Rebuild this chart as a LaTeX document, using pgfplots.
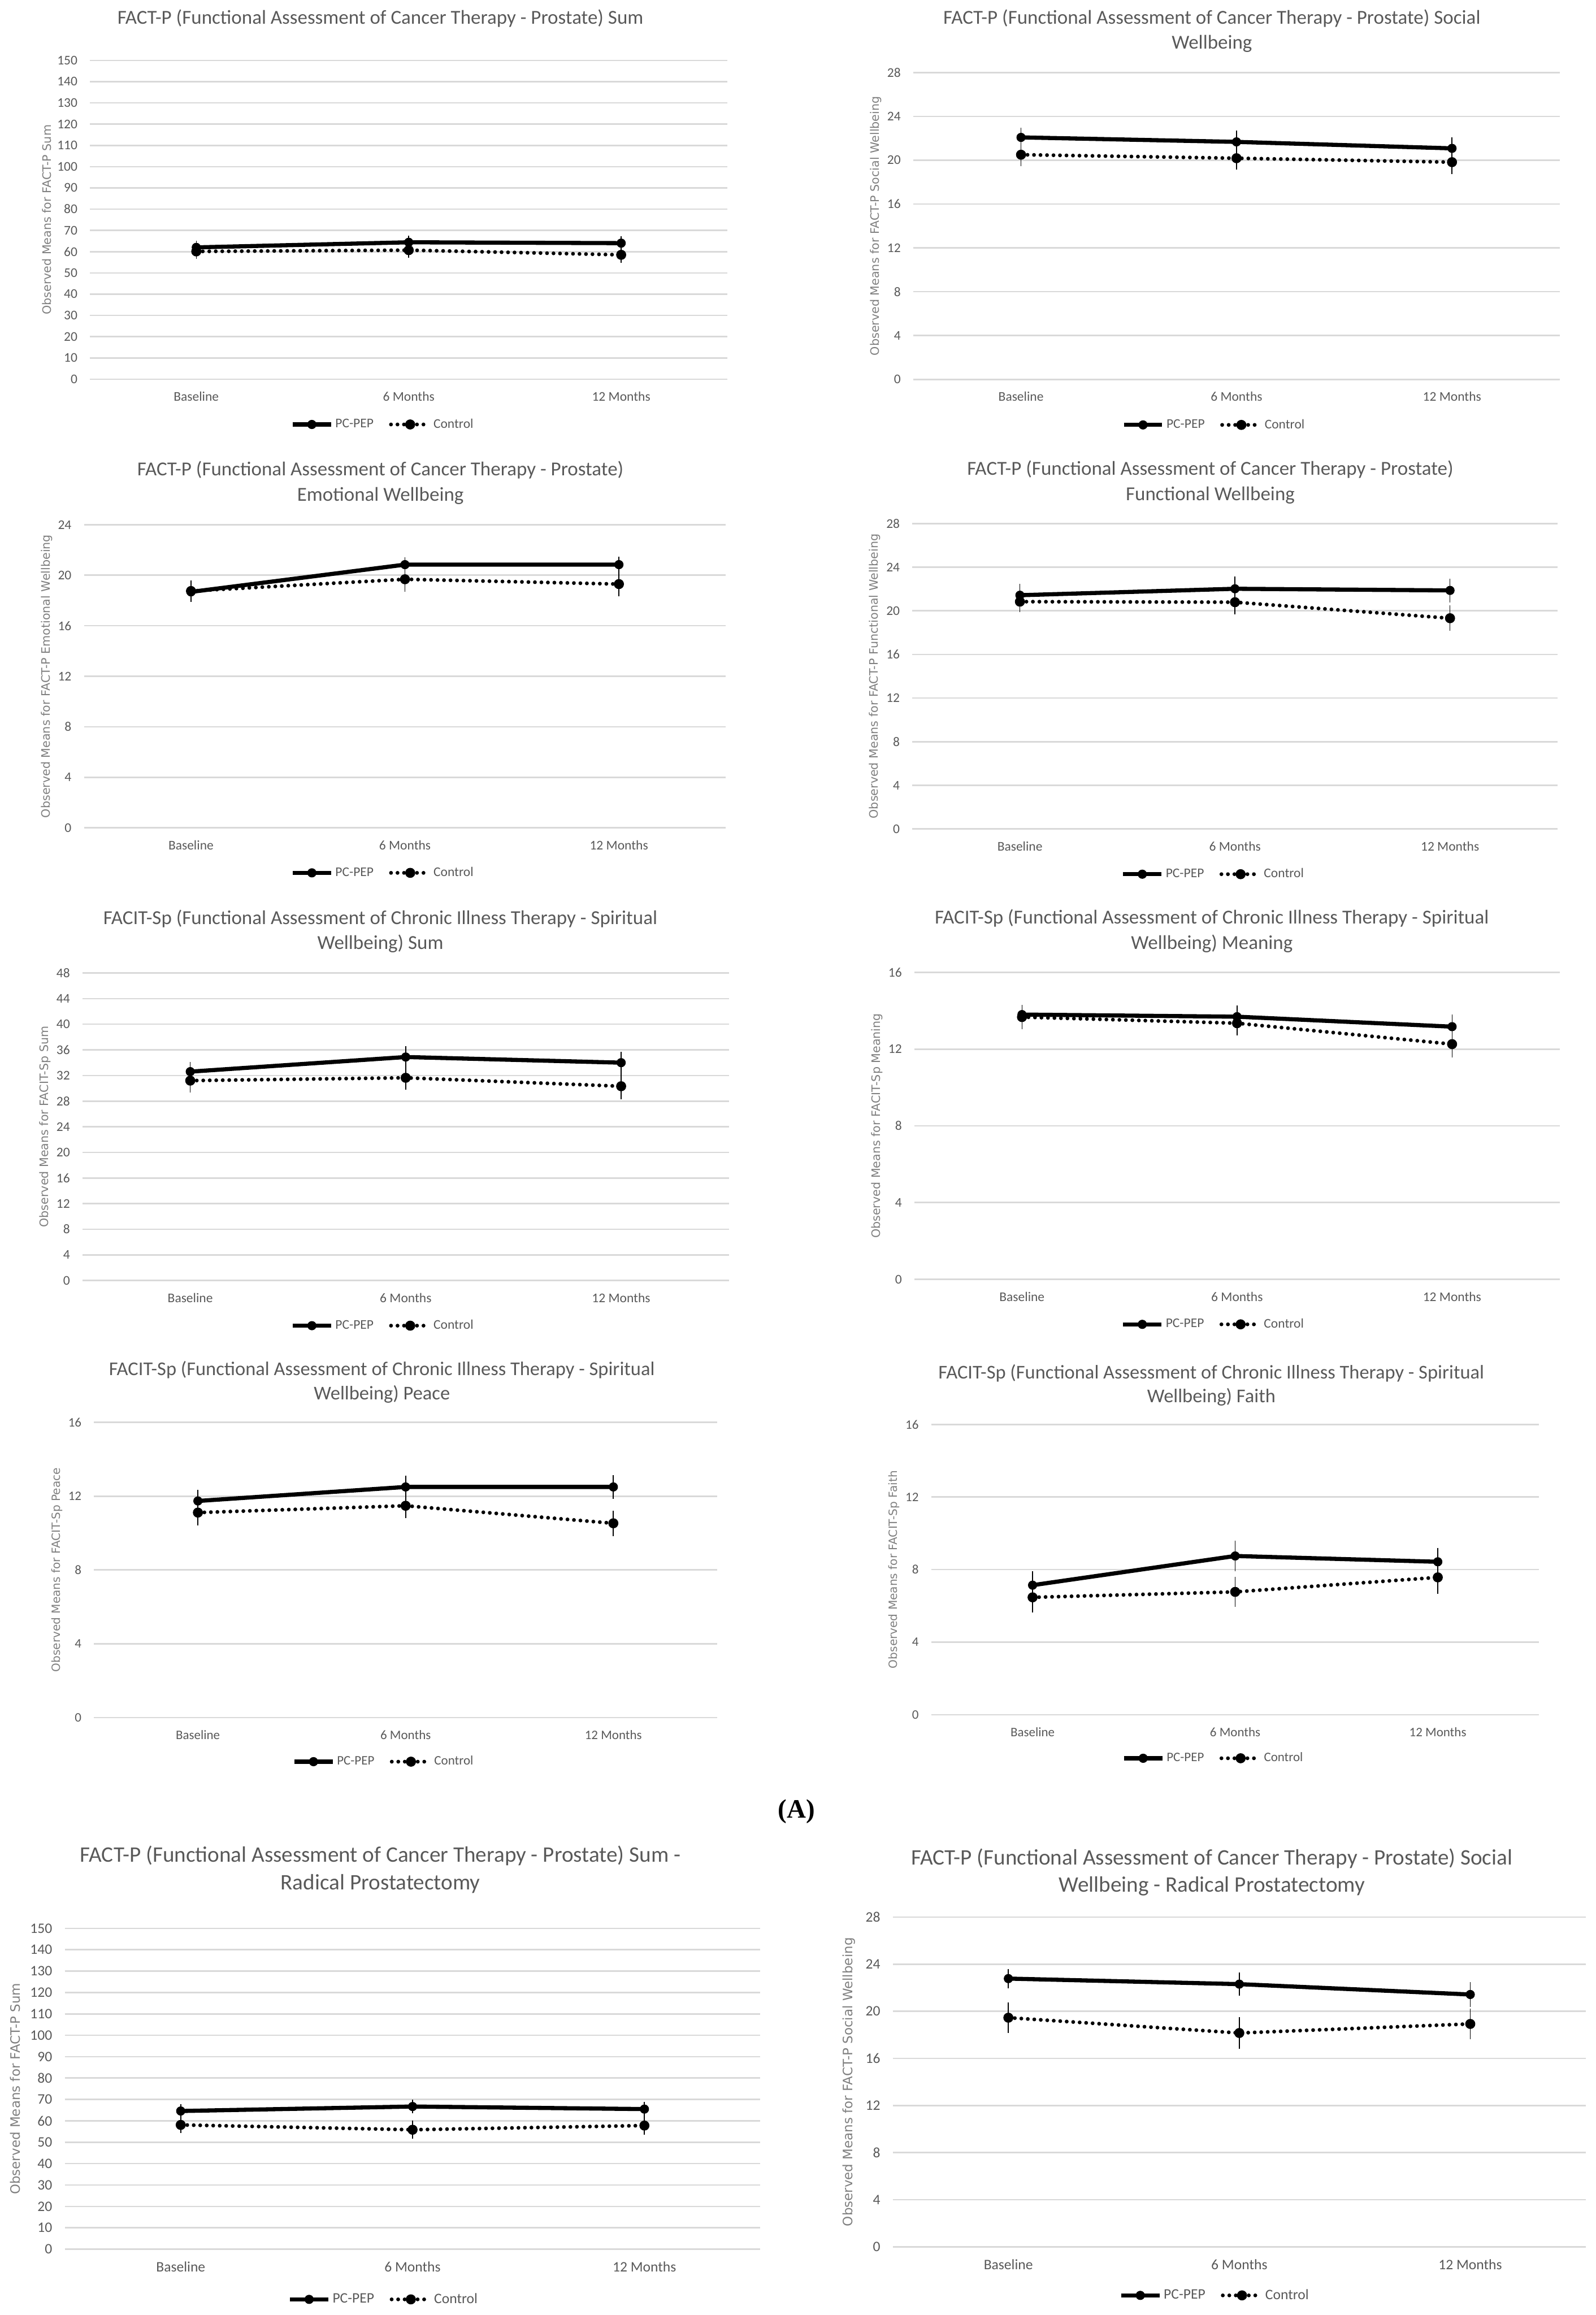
\documentclass[border=0pt]{standalone}
\usepackage{fontspec}
\setmainfont{Carlito}
\newfontfamily\ylabfont{DejaVu Sans}
\newfontfamily\capfont{Liberation Serif}
\usepackage{pgfplots}
\pgfplotsset{compat=1.18}

\definecolor{titlegray}{HTML}{595959}
\definecolor{tickgray}{HTML}{595959}
\definecolor{ylabgray}{HTML}{7F7F7F}
\definecolor{gridgray}{HTML}{D9D9D9}

\pgfplotsset{
  /pgf/number format/assume math mode=true,
  every axis title shift=0pt,
  panel/.style={
    scale only axis,
    anchor=south west,
    xmin=-0.5, xmax=2.5, ymin=0,
    xtick={0,1,2}, xticklabels={Baseline,6 Months,12 Months},
    axis line style={draw=none},
    major tick length=0pt,
    ymajorgrids=true,
    grid style={line width=1pt, gridgray},
    tick label style={text=tickgray},
    yticklabel style={xshift=-5pt},
    xticklabel style={yshift=-5pt},
    title style={align=center, text=titlegray, anchor=center},
    ylabel style={text=ylabgray},
    legend columns=2,
    legend style={draw=none, fill=none, anchor=center, text=tickgray,
      /tikz/every even column/.append style={column sep=9pt},
      nodes={inner xsep=1.5pt}},
    legend image code/.code={\draw[mark repeat=2,mark phase=2,##1] plot coordinates {(0pt,0pt) (13pt,0pt) (26pt,0pt)};},
    clip=false,
  },
  rowA/.style={
    title style={font=\fontsize{13.4}{17.1}\selectfont},
    tick label style={font=\fontsize{9}{10}\selectfont},
    legend style={font=\fontsize{9}{10}\selectfont},
    ylabel style={font=\ylabfont\fontsize{7.9}{9}\selectfont},
    ylabel shift=-3pt,
  },
  rowB/.style={
    title style={font=\fontsize{13.2}{16.4}\selectfont},
    tick label style={font=\fontsize{8.8}{10}\selectfont},
    legend style={font=\fontsize{8.8}{10}\selectfont},
    ylabel style={font=\ylabfont\fontsize{7.7}{9}\selectfont},
    ylabel shift=-3pt,
  },
  rowC/.style={
    title style={font=\fontsize{15}{18.6}\selectfont},
    tick label style={font=\fontsize{9.8}{11}\selectfont},
    legend style={font=\fontsize{9.8}{11}\selectfont},
    ylabel style={font=\ylabfont\fontsize{8.8}{10}\selectfont},
  },
  pcpep/.style={black, line width=2.8pt, mark=*, mark size=2.9pt,
    mark options={solid, line width=0.4pt}},
  ctrl/.style={black, line width=2.6pt, line cap=round,
    dash pattern=on 0pt off 4.4pt, mark=*, mark size=3.2pt,
    mark options={solid, line width=0.4pt}},
  ebars/.style={error bars/.cd, y dir=both, y explicit,
    error bar style={solid, line width=0.6pt, black},
    error mark options={solid, line width=0.6pt, mark size=2.4pt, black}},
}

\begin{document}
\begin{tikzpicture}
\path[use as bounding box] (0pt,0pt) rectangle (1081pt,-1568pt);

% row 1 left
\begin{axis}[panel, rowA,
  at={(61pt,-256.8pt)}, width=431.7pt, height=215.9pt,
  ymax=150, ytick distance=10,
  title={FACT-P (Functional Assessment of Cancer Therapy - Prostate) Sum},
  title style={at={(axis description cs:0.4556,1)}, yshift=28.5pt},
  ylabel={Observed Means for FACT-P Sum},
  legend style={at={(axis description cs:0.4598,0)}, yshift=-30.7pt}]
\addplot[pcpep, ebars] coordinates {(0,62.0) +- (0,1.5) (1,64.4) +- (0,1.5) (2,64.0) +- (0,1.5)};
\addlegendentry{PC-PEP}
\addplot[ctrl, ebars] coordinates {(0,60.1) +- (0,1.8) (1,60.7) +- (0,1.8) (2,58.5) +- (0,2.1)};
\addlegendentry{Control}
\end{axis}

% row 1 right
\begin{axis}[panel, rowA,
  at={(618.6pt,-257.0pt)}, width=437.9pt, height=207.9pt,
  ymax=28, ytick distance=4,
  title={FACT-P (Functional Assessment of Cancer Therapy - Prostate) Social\\Wellbeing},
  title style={at={(axis description cs:0.4620,1)}, yshift=28.15pt},
  ylabel={Observed Means for FACT-P Social Wellbeing},
  legend style={at={(axis description cs:0.4656,0)}, yshift=-30.8pt}]
\addplot[pcpep, ebars] coordinates {(0,22.08) +- (0,0.56) (1,21.67) +- (0,0.73) (2,21.08) +- (0,0.70)};
\addlegendentry{PC-PEP}
\addplot[ctrl, ebars] coordinates {(0,20.50) +- (0,0.70) (1,20.18) +- (0,0.73) (2,19.82) +- (0,0.75)};
\addlegendentry{Control}
\end{axis}

% row 2 left
\begin{axis}[panel, rowA,
  at={(56.9pt,-560.7pt)}, width=434.8pt, height=205.3pt,
  ymax=24, ytick distance=4,
  title={FACT-P (Functional Assessment of Cancer Therapy - Prostate)\\Emotional Wellbeing},
  title style={at={(axis description cs:0.4618,1)}, yshift=28.35pt},
  ylabel={Observed Means for FACT-P Emotional Wellbeing},
  legend style={at={(axis description cs:0.4660,0)}, yshift=-30.5pt}]
\addplot[pcpep, ebars] coordinates {(0,18.68) +- (0,0.50) (1,20.84) +- (0,0.30) (2,20.84) +- (0,0.35)};
\addlegendentry{PC-PEP}
\addplot[ctrl, ebars] coordinates {(0,18.75) +- (0,0.55) (1,19.68) +- (0,0.69) (2,19.30) +- (0,0.69)};
\addlegendentry{Control}
\end{axis}

% row 2 right
\begin{axis}[panel, rowA,
  at={(618.0pt,-561.5pt)}, width=437.0pt, height=206.9pt,
  ymax=28, ytick distance=4,
  title={FACT-P (Functional Assessment of Cancer Therapy - Prostate)\\Functional Wellbeing},
  title style={at={(axis description cs:0.4618,1)}, yshift=28.05pt},
  ylabel={Observed Means for FACT-P Functional Wellbeing},
  legend style={at={(axis description cs:0.4668,0)}, yshift=-30.6pt}]
\addplot[pcpep, ebars] coordinates {(0,21.43) +- (0,0.70) (1,22.02) +- (0,0.78) (2,21.87) +- (0,0.76)};
\addlegendentry{PC-PEP}
\addplot[ctrl, ebars] coordinates {(0,20.84) +- (0,0.64) (1,20.79) +- (0,0.77) (2,19.32) +- (0,0.84)};
\addlegendentry{Control}
\end{axis}

% row 3 left
\begin{axis}[panel, rowA,
  at={(55.9pt,-867.3pt)}, width=437.8pt, height=208.3pt,
  ymax=48, ytick distance=4,
  title={FACIT-Sp (Functional Assessment of Chronic Illness Therapy - Spiritual\\Wellbeing) Sum},
  title style={at={(axis description cs:0.4609,1)}, yshift=28.25pt},
  ylabel={Observed Means for FACIT-Sp Sum},
  legend style={at={(axis description cs:0.4651,0)}, yshift=-30.6pt}]
\addplot[pcpep, ebars] coordinates {(0,32.60) +- (0,0.97) (1,34.88) +- (0,1.14) (2,34.00) +- (0,1.14)};
\addlegendentry{PC-PEP}
\addplot[ctrl, ebars] coordinates {(0,31.20) +- (0,1.30) (1,31.64) +- (0,1.30) (2,30.32) +- (0,1.50)};
\addlegendentry{Control}
\end{axis}

% row 3 right
\begin{axis}[panel, rowA,
  at={(619.4pt,-866.5pt)}, width=437.0pt, height=207.9pt,
  ymax=16, ytick distance=4,
  title={FACIT-Sp (Functional Assessment of Chronic Illness Therapy - Spiritual\\Wellbeing) Meaning},
  title style={at={(axis description cs:0.4611,1)}, yshift=28.15pt},
  ylabel={Observed Means for FACIT-Sp Meaning},
  legend style={at={(axis description cs:0.4636,0)}, yshift=-30.5pt}]
\addplot[pcpep, ebars] coordinates {(0,13.80) +- (0,0.30) (1,13.69) +- (0,0.39) (2,13.17) +- (0,0.45)};
\addlegendentry{PC-PEP}
\addplot[ctrl, ebars] coordinates {(0,13.67) +- (0,0.44) (1,13.35) +- (0,0.45) (2,12.26) +- (0,0.50)};
\addlegendentry{Control}
\end{axis}

% row 4 left
\begin{axis}[panel, rowB,
  at={(63.7pt,-1163.3pt)}, width=422.1pt, height=199.9pt,
  ymax=16, ytick distance=4,
  title={FACIT-Sp (Functional Assessment of Chronic Illness Therapy - Spiritual\\Wellbeing) Peace},
  title style={at={(axis description cs:0.4620,1)}, yshift=27.25pt},
  ylabel={Observed Means for FACIT-Sp Peace},
  legend style={at={(axis description cs:0.4651,0)}, yshift=-29.9pt}]
\addplot[pcpep, ebars] coordinates {(0,11.74) +- (0,0.40) (1,12.50) +- (0,0.43) (2,12.50) +- (0,0.44)};
\addlegendentry{PC-PEP}
\addplot[ctrl, ebars] coordinates {(0,11.11) +- (0,0.50) (1,11.48) +- (0,0.49) (2,10.53) +- (0,0.50)};
\addlegendentry{Control}
\end{axis}

% row 4 right
\begin{axis}[panel, rowB,
  at={(630.8pt,-1161.4pt)}, width=411.7pt, height=196.6pt,
  ymax=16, ytick distance=4,
  title={FACIT-Sp (Functional Assessment of Chronic Illness Therapy - Spiritual\\Wellbeing) Faith},
  title style={at={(axis description cs:0.4608,1)}, yshift=26.6pt},
  ylabel={Observed Means for FACIT-Sp Faith},
  legend style={at={(axis description cs:0.4644,0)}, yshift=-29.5pt}]
\addplot[pcpep, ebars] coordinates {(0,7.14) +- (0,0.56) (1,8.75) +- (0,0.65) (2,8.43) +- (0,0.57)};
\addlegendentry{PC-PEP}
\addplot[ctrl, ebars] coordinates {(0,6.47) +- (0,0.64) (1,6.77) +- (0,0.64) (2,7.57) +- (0,0.70)};
\addlegendentry{Control}
\end{axis}

\node[font=\capfont\bfseries\fontsize{18}{20}\selectfont] at (539.5pt,-1227pt) {(A)};

% row 5 left
\begin{axis}[panel, rowC,
  at={(43.9pt,-1523.4pt)}, width=471.1pt, height=217.3pt,
  ymax=150, ytick distance=10,
  title={FACT-P (Functional Assessment of Cancer Therapy - Prostate) Sum -\\Radical Prostatectomy},
  title style={at={(axis description cs:0.4538,1)}, yshift=39.8pt},
  ylabel={Observed Means for FACT-P Sum},
  legend style={at={(axis description cs:0.4587,0)}, yshift=-34pt}]
\addplot[pcpep, ebars] coordinates {(0,64.6) +- (0,1.5) (1,66.7) +- (0,1.5) (2,65.5) +- (0,1.8)};
\addlegendentry{PC-PEP}
\addplot[ctrl, ebars] coordinates {(0,58.1) +- (0,2.0) (1,55.85) +- (0,2.6) (2,57.8) +- (0,2.5)};
\addlegendentry{Control}
\end{axis}

% row 5 right
\begin{axis}[panel, rowC,
  at={(604.8pt,-1521.8pt)}, width=469.3pt, height=223.3pt,
  ymax=28, ytick distance=4,
  title={FACT-P (Functional Assessment of Cancer Therapy - Prostate) Social\\Wellbeing - Radical Prostatectomy},
  title style={at={(axis description cs:0.4605,1)}, yshift=30.4pt},
  ylabel={Observed Means for FACT-P Social Wellbeing},
  legend style={at={(axis description cs:0.4649,0)}, yshift=-32.9pt}]
\addplot[pcpep, ebars] coordinates {(0,22.78) +- (0,0.52) (1,22.31) +- (0,0.70) (2,21.43) +- (0,0.75)};
\addlegendentry{PC-PEP}
\addplot[ctrl, ebars] coordinates {(0,19.46) +- (0,0.99) (1,18.16) +- (0,1.04) (2,18.93) +- (0,1.00)};
\addlegendentry{Control}
\end{axis}
\end{tikzpicture}
\end{document}
